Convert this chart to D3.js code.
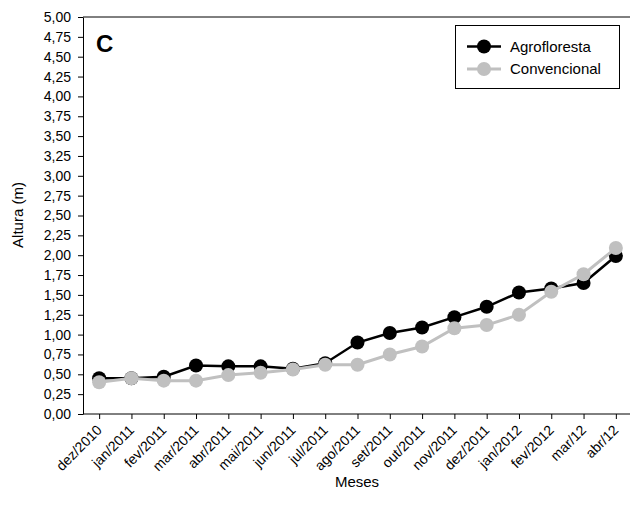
<!DOCTYPE html>
<html>
<head>
<meta charset="utf-8">
<script src="https://cdn.jsdelivr.net/npm/d3@7"></script>
<style>
body { margin: 0; background: #fff; }
text { font-family: "Liberation Sans", Arial, sans-serif; }
</style>
</head>
<body>
<svg id="chart" width="630" height="521"></svg>
<script>
// months on the x axis
var meses = ["dez/2010","jan/2011","fev/2011","mar/2011","abr/2011","mai/2011","jun/2011",
  "jul/2011","ago/2011","set/2011","out/2011","nov/2011","dez/2011","jan/2012","fev/2012",
  "mar/12","abr/12"];

// plant height (m)
var agrofloresta = [0.45,0.45,0.47,0.61,0.60,0.60,0.57,0.64,0.90,1.02,1.09,1.22,1.35,1.53,1.58,1.65,1.99];
var convencional = [0.40,0.45,0.42,0.42,0.49,0.52,0.56,0.62,0.62,0.75,0.85,1.08,1.12,1.25,1.54,1.76,2.09];

var yTicks = d3.range(0, 5.001, 0.25);

var svg = d3.select("#chart");
var mLeft = 83, mRight = 632, mTop = 17, mBottom = 414;

var x = d3.scalePoint().domain(meses).range([mLeft, mRight]).padding(0.5);
var y = d3.scaleLinear().domain([0, 5]).range([mBottom, mTop]);
var fmt = function(d){ return d3.format(".2f")(d).replace(".", ","); };

// top frame line
svg.append("line").attr("x1", mLeft).attr("x2", 630).attr("y1", mTop).attr("y2", mTop)
  .style("stroke", "#000").style("stroke-width", 1);

var yAxis = svg.append("g").attr("transform", "translate(" + mLeft + ",0)")
  .call(d3.axisLeft(y).tickValues(yTicks).tickFormat(fmt).tickSize(5).tickSizeOuter(0).tickPadding(7));
var xAxis = svg.append("g").attr("transform", "translate(0," + mBottom + ")")
  .call(d3.axisBottom(x).tickSize(5).tickSizeOuter(0));

[yAxis, xAxis].forEach(function(a){
  a.select(".domain").style("stroke", "#000");
  a.selectAll(".tick line").style("stroke", "#000");
  a.selectAll("text").style("font-size", "14px").style("font-family", "Liberation Sans, Arial, sans-serif").attr("fill", "#000");
});
xAxis.select(".domain").attr("d", "M" + mLeft + ",0H630");
xAxis.selectAll(".tick text")
  .attr("text-anchor", "end")
  .attr("dy", null).attr("y", 0)
  .attr("transform", "translate(3,17) rotate(-45)");

// axis titles
svg.append("text").attr("x", 357).attr("y", 487).attr("text-anchor", "middle")
  .style("font-size", "15px").text("Meses");
svg.append("text").attr("transform", "translate(23,215) rotate(-90)").attr("text-anchor", "middle")
  .style("font-size", "15px").text("Altura (m)");
svg.append("text").attr("x", 96).attr("y", 52).style("font-size", "24px")
  .style("font-weight", "bold").text("C");

// series
var series = [
  {name: "Agrofloresta", values: agrofloresta, color: "#000", width: 2.5},
  {name: "Convencional", values: convencional, color: "#c0c0c0", width: 3}
];
var line = d3.line().x(function(d, i){ return x(meses[i]); }).y(function(d){ return y(d); });

series.forEach(function(s){
  svg.append("path").datum(s.values).attr("d", line)
    .style("fill", "none").style("stroke", s.color).style("stroke-width", s.width);
  svg.selectAll(null).data(s.values).enter().append("circle")
    .attr("cx", function(d, i){ return x(meses[i]); })
    .attr("cy", function(d){ return y(d); })
    .attr("r", 7).style("fill", s.color);
});

// legend
var lg = svg.append("g");
lg.append("rect").attr("x", 455.5).attr("y", 25.5).attr("width", 164).attr("height", 63)
  .style("fill", "#fff").style("stroke", "#000");
series.forEach(function(s, i){
  var ly = 46.5 + i * 22.5;
  lg.append("line").attr("x1", 467).attr("x2", 501).attr("y1", ly).attr("y2", ly)
    .style("stroke", s.color).style("stroke-width", s.width);
  lg.append("circle").attr("cx", 484).attr("cy", ly).attr("r", 7).style("fill", s.color);
  lg.append("text").attr("x", 510).attr("y", ly + 5).style("font-size", "15px").text(s.name);
});
</script>
</body>
</html>
